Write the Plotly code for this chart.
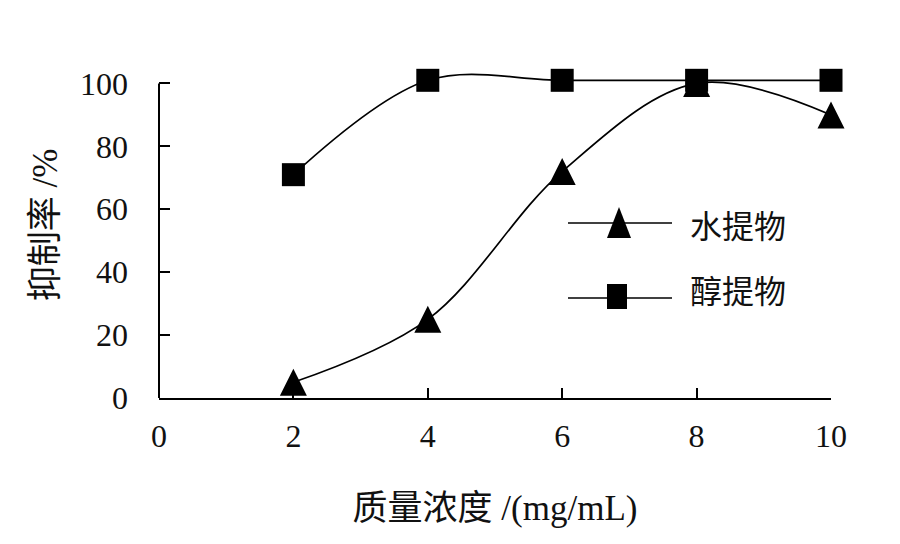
import plotly.graph_objects as go

# ---- data ----
x_vals = [2, 4, 6, 8, 10]
water_extract = [5, 25, 72, 100, 90]        # 水提物
alcohol_extract = [71, 101, 101, 101, 101]  # 醇提物
series_names = ["水提物", "醇提物"]
x_ticks = [0, 2, 4, 6, 8, 10]
y_ticks = [0, 20, 40, 60, 80, 100]
x_title = "质量浓度 /(mg/mL)"
y_title = "抑制率 /%"

# ---- layout constants (page coordinates; page has an 8px body offset) ----
W, H = 900, 544
OFF = 8
PA_X0, PA_X1 = 159, 831      # plot area left/right on the page
PA_TOP, PA_BOT = 52, 398     # plot area top/bottom on the page
L = PA_X0 - OFF
T = PA_TOP - OFF
R = W - (PA_X1 - OFF)
B = H - (PA_BOT - OFF)
Y_RANGE = [0, 110]
FONT = "Liberation Serif, 'Noto Sans CJK SC', serif"
plot_w = PA_X1 - PA_X0
plot_h = PA_BOT - PA_TOP


def px(x):
    return (x - PA_X0) / plot_w


def py(y):
    return (PA_BOT - y) / plot_h


fig = go.Figure()
fig.add_trace(go.Scatter(
    x=x_vals, y=water_extract, name=series_names[0], mode="lines+markers",
    line=dict(color="black", width=1.7, shape="spline", smoothing=1),
    marker=dict(symbol="arrow-down", angle=180, standoff=13.5, size=27, color="black"),
    cliponaxis=False, showlegend=False))
fig.add_trace(go.Scatter(
    x=x_vals, y=alcohol_extract, name=series_names[1], mode="lines+markers",
    line=dict(color="black", width=1.7, shape="spline", smoothing=1),
    marker=dict(symbol="square", size=23, color="black"),
    cliponaxis=False, showlegend=False))

shapes = [
    # y axis line, only up to 100
    dict(type="line", xref="paper", yref="y", x0=0, x1=0, y0=0, y1=100,
         line=dict(color="black", width=2)),
    # legend row 1
    dict(type="line", xref="paper", yref="paper", x0=px(568), x1=px(672), y0=py(223), y1=py(223),
         line=dict(color="black", width=1.7)),
    dict(type="path", xref="paper", yref="paper",
         path=f"M {px(607)} {py(238)} L {px(631)} {py(238)} L {px(619)} {py(207)} Z",
         fillcolor="black", line=dict(color="black", width=0)),
    # legend row 2
    dict(type="line", xref="paper", yref="paper", x0=px(568), x1=px(672), y0=py(298), y1=py(298),
         line=dict(color="black", width=1.7)),
    dict(type="rect", xref="paper", yref="paper", x0=px(607), x1=px(627), y0=py(309), y1=py(284),
         fillcolor="black", line=dict(color="black", width=0)),
]

annotations = [
    dict(text=series_names[0], xref="paper", yref="paper", x=px(688), y=py(227),
         xanchor="left", yanchor="middle", showarrow=False,
         font=dict(family=FONT, size=32, color="#111")),
    dict(text=series_names[1], xref="paper", yref="paper", x=px(688), y=py(292),
         xanchor="left", yanchor="middle", showarrow=False,
         font=dict(family=FONT, size=32, color="#111")),
]

fig.update_layout(
    width=W, height=H,
    margin=dict(l=L, r=R, t=T, b=B, pad=0),
    paper_bgcolor="white", plot_bgcolor="white",
    font=dict(family=FONT, size=32, color="#111"),
    shapes=shapes, annotations=annotations,
    xaxis=dict(range=[0, 10], tickvals=x_ticks, ticktext=[str(v) for v in x_ticks],
               showline=True, linecolor="black", linewidth=2,
               ticks="inside", ticklen=10, tickwidth=2, tickcolor="black",
               showgrid=False, zeroline=False, ticklabelstandoff=9,
               tickfont=dict(family=FONT, size=32, color="#111"),
               title=dict(text=x_title, standoff=42, font=dict(family=FONT, size=35, color="#111"))),
    yaxis=dict(range=Y_RANGE, tickvals=y_ticks, ticktext=[str(v) for v in y_ticks],
               showline=False,
               ticks="inside", ticklen=11, tickwidth=2, tickcolor="black",
               showgrid=False, zeroline=False, ticklabelstandoff=30,
               tickfont=dict(family=FONT, size=32, color="#111"),
               title=dict(text=y_title, standoff=11, font=dict(family=FONT, size=35, color="#111"))),
)

fig.write_html("out.html")
